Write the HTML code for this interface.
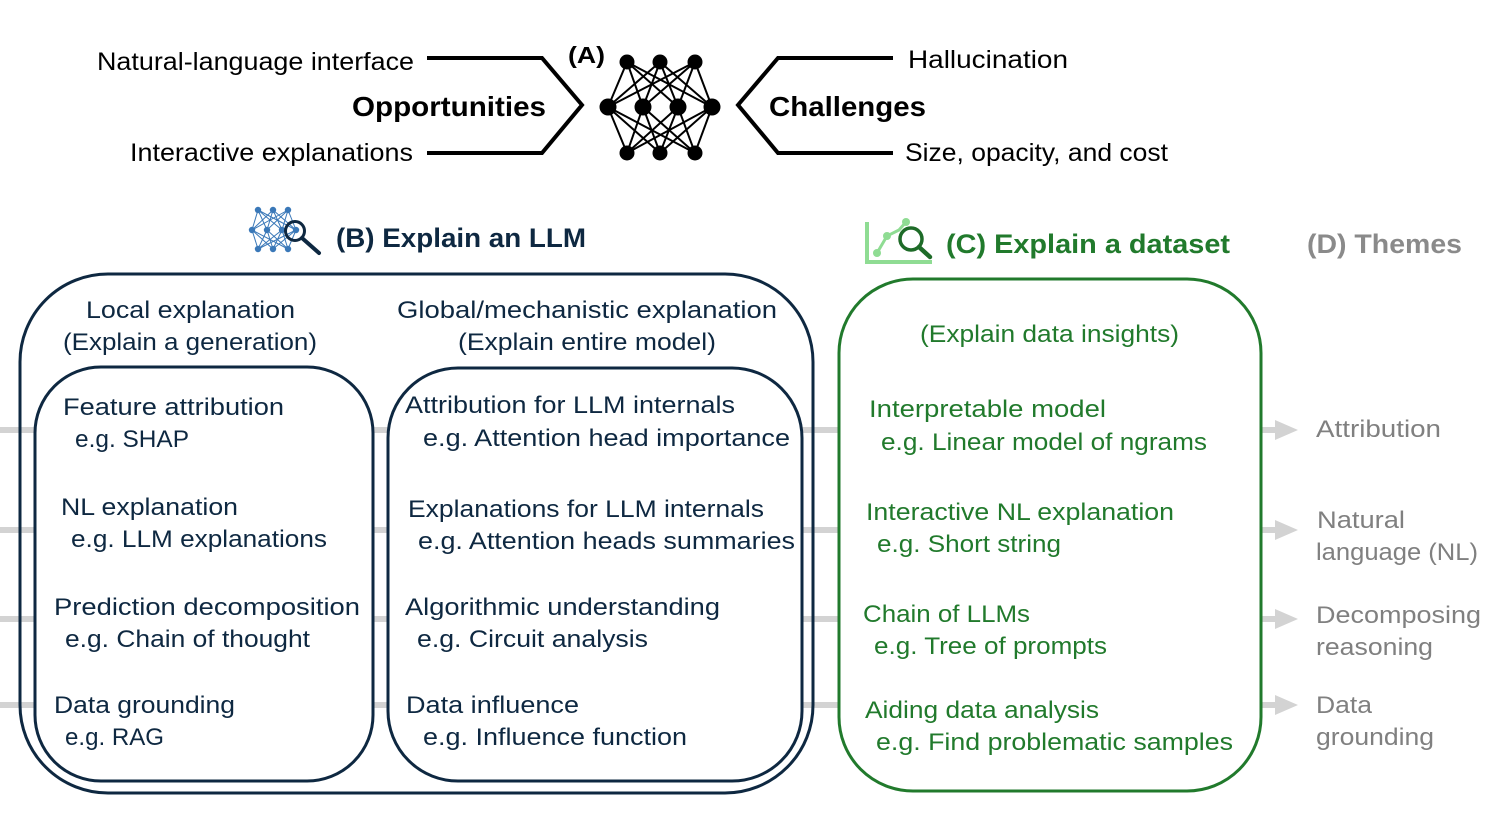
<!DOCTYPE html>
<html>
<head>
<meta charset="utf-8">
<style>
html,body{margin:0;padding:0;background:#fff;}
svg{display:block;}
text{font-family:"Liberation Sans",sans-serif;}
</style>
</head>
<body>
<svg width="1495" height="830" viewBox="0 0 1495 830" xmlns="http://www.w3.org/2000/svg">
<rect width="1495" height="830" fill="#fff"/>

<!-- ===== (A) top section ===== -->
<g font-size="25" fill="#000">
<text x="97" y="70" textLength="317" lengthAdjust="spacingAndGlyphs">Natural-language interface</text>
<text x="130" y="161" textLength="283" lengthAdjust="spacingAndGlyphs">Interactive explanations</text>
<text x="908" y="68" textLength="160" lengthAdjust="spacingAndGlyphs">Hallucination</text>
<text x="905" y="161" textLength="263" lengthAdjust="spacingAndGlyphs">Size, opacity, and cost</text>
</g>
<g font-size="28" font-weight="bold" fill="#000">
<text x="352" y="116" textLength="194" lengthAdjust="spacingAndGlyphs">Opportunities</text>
<text x="769" y="116" textLength="157" lengthAdjust="spacingAndGlyphs">Challenges</text>
</g>
<text x="568" y="63" font-size="23" font-weight="bold" fill="#000" textLength="37" lengthAdjust="spacingAndGlyphs">(A)</text>

<!-- chevrons -->
<polyline points="427,58 542,58 582,105 542,153 427,153" fill="none" stroke="#000" stroke-width="4" stroke-linejoin="miter"/>
<polyline points="893,58 778,58 738,105 778,153 893,153" fill="none" stroke="#000" stroke-width="4" stroke-linejoin="miter"/>

<!-- neural network -->
<g stroke="#000" stroke-width="2">
<!-- top to middle -->
<line x1="627" y1="62" x2="608" y2="107"/><line x1="627" y1="62" x2="643" y2="107"/><line x1="627" y1="62" x2="678" y2="107"/><line x1="627" y1="62" x2="712" y2="107"/>
<line x1="660" y1="62" x2="608" y2="107"/><line x1="660" y1="62" x2="643" y2="107"/><line x1="660" y1="62" x2="678" y2="107"/><line x1="660" y1="62" x2="712" y2="107"/>
<line x1="695" y1="62" x2="608" y2="107"/><line x1="695" y1="62" x2="643" y2="107"/><line x1="695" y1="62" x2="678" y2="107"/><line x1="695" y1="62" x2="712" y2="107"/>
<!-- middle to bottom -->
<line x1="608" y1="107" x2="627" y2="153"/><line x1="608" y1="107" x2="660" y2="153"/><line x1="608" y1="107" x2="695" y2="153"/>
<line x1="643" y1="107" x2="627" y2="153"/><line x1="643" y1="107" x2="660" y2="153"/><line x1="643" y1="107" x2="695" y2="153"/>
<line x1="678" y1="107" x2="627" y2="153"/><line x1="678" y1="107" x2="660" y2="153"/><line x1="678" y1="107" x2="695" y2="153"/>
<line x1="712" y1="107" x2="627" y2="153"/><line x1="712" y1="107" x2="660" y2="153"/><line x1="712" y1="107" x2="695" y2="153"/>
</g>
<g fill="#000">
<circle cx="627" cy="62" r="7.5"/><circle cx="660" cy="62" r="7.5"/><circle cx="695" cy="62" r="7.5"/>
<circle cx="608" cy="107" r="8.5"/><circle cx="643" cy="107" r="8.5"/><circle cx="678" cy="107" r="8.5"/><circle cx="712" cy="107" r="8.5"/>
<circle cx="627" cy="153" r="7.5"/><circle cx="660" cy="153" r="7.5"/><circle cx="695" cy="153" r="7.5"/>
</g>

<!-- ===== section titles ===== -->
<!-- B icon -->
<g stroke="#3a78b8" stroke-width="1">
<line x1="258" y1="210" x2="252" y2="230"/><line x1="258" y1="210" x2="267" y2="230"/><line x1="258" y1="210" x2="282" y2="230"/><line x1="258" y1="210" x2="296" y2="230"/>
<line x1="273" y1="210" x2="252" y2="230"/><line x1="273" y1="210" x2="267" y2="230"/><line x1="273" y1="210" x2="282" y2="230"/><line x1="273" y1="210" x2="296" y2="230"/>
<line x1="288" y1="210" x2="252" y2="230"/><line x1="288" y1="210" x2="267" y2="230"/><line x1="288" y1="210" x2="282" y2="230"/><line x1="288" y1="210" x2="296" y2="230"/>
<line x1="252" y1="230" x2="258" y2="249"/><line x1="252" y1="230" x2="273" y2="249"/><line x1="252" y1="230" x2="288" y2="249"/>
<line x1="267" y1="230" x2="258" y2="249"/><line x1="267" y1="230" x2="273" y2="249"/><line x1="267" y1="230" x2="288" y2="249"/>
<line x1="282" y1="230" x2="258" y2="249"/><line x1="282" y1="230" x2="273" y2="249"/><line x1="282" y1="230" x2="288" y2="249"/>
<line x1="296" y1="230" x2="258" y2="249"/><line x1="296" y1="230" x2="273" y2="249"/><line x1="296" y1="230" x2="288" y2="249"/>
</g>
<g fill="#3a78b8">
<circle cx="258" cy="210" r="3.2"/><circle cx="273" cy="210" r="3.2"/><circle cx="288" cy="210" r="3.2"/>
<circle cx="252" cy="230" r="3.2"/><circle cx="267" cy="230" r="3.2"/><circle cx="282" cy="230" r="3.2"/><circle cx="296" cy="230" r="3.2"/>
<circle cx="258" cy="249" r="3.2"/><circle cx="273" cy="249" r="3.2"/><circle cx="288" cy="249" r="3.2"/>
</g>
<circle cx="295" cy="231" r="9.5" fill="none" stroke="#0e2841" stroke-width="3"/>
<line x1="302" y1="238" x2="319" y2="253" stroke="#0e2841" stroke-width="4" stroke-linecap="round"/>
<text x="336" y="247" font-size="27" font-weight="bold" fill="#0e2841" textLength="250" lengthAdjust="spacingAndGlyphs">(B) Explain an LLM</text>

<!-- C icon -->
<polyline points="867,222 867,262 932,262" fill="none" stroke="#8fdc93" stroke-width="4"/>
<polyline points="877,253 887,236 899,230 906,222" fill="none" stroke="#8fdc93" stroke-width="3"/>
<circle cx="877" cy="253" r="4" fill="#8fdc93"/><circle cx="887" cy="236" r="4" fill="#8fdc93"/><circle cx="906" cy="222" r="4" fill="#8fdc93"/>
<circle cx="911" cy="239" r="11" fill="none" stroke="#1e6b28" stroke-width="3.5"/>
<line x1="919" y1="247" x2="930" y2="257" stroke="#1e6b28" stroke-width="4.5" stroke-linecap="round"/>
<text x="946" y="253" font-size="27" font-weight="bold" fill="#217a2c" textLength="284" lengthAdjust="spacingAndGlyphs">(C) Explain a dataset</text>

<text x="1307" y="253" font-size="27" font-weight="bold" fill="#8a8a8a" textLength="155" lengthAdjust="spacingAndGlyphs">(D) Themes</text>

<!-- ===== gray theme lines ===== -->
<g stroke="#d3d3d3" stroke-width="6">
<line x1="0" y1="430" x2="1278" y2="430"/>
<line x1="0" y1="530" x2="1278" y2="530"/>
<line x1="0" y1="619" x2="1278" y2="619"/>
<line x1="0" y1="705" x2="1278" y2="705"/>
</g>
<g fill="#d3d3d3">
<polygon points="1275,420 1298,430 1275,440"/>
<polygon points="1275,520 1298,530 1275,540"/>
<polygon points="1275,609 1298,619 1275,629"/>
<polygon points="1275,695 1298,705 1275,715"/>
</g>

<!-- ===== B boxes ===== -->
<rect x="20" y="274" width="793" height="519" rx="88" ry="88" fill="none" stroke="#0e2841" stroke-width="3"/>
<rect x="35" y="367" width="338" height="414" rx="66" ry="66" fill="#fff" stroke="#0e2841" stroke-width="3"/>
<rect x="388" y="368" width="414" height="413" rx="70" ry="70" fill="#fff" stroke="#0e2841" stroke-width="3"/>

<g font-size="24" fill="#0e2841">
<text x="86" y="318" textLength="209" lengthAdjust="spacingAndGlyphs">Local explanation</text>
<text x="63" y="350" textLength="254" lengthAdjust="spacingAndGlyphs">(Explain a generation)</text>
<text x="397" y="318" textLength="380" lengthAdjust="spacingAndGlyphs">Global/mechanistic explanation</text>
<text x="458" y="350" textLength="258" lengthAdjust="spacingAndGlyphs">(Explain entire model)</text>

<text x="63" y="415" textLength="221" lengthAdjust="spacingAndGlyphs">Feature attribution</text>
<text x="75" y="447" textLength="114" lengthAdjust="spacingAndGlyphs">e.g. SHAP</text>
<text x="61" y="515" textLength="177" lengthAdjust="spacingAndGlyphs">NL explanation</text>
<text x="71" y="547" textLength="256" lengthAdjust="spacingAndGlyphs">e.g. LLM explanations</text>
<text x="54" y="615" textLength="306" lengthAdjust="spacingAndGlyphs">Prediction decomposition</text>
<text x="65" y="647" textLength="245" lengthAdjust="spacingAndGlyphs">e.g. Chain of thought</text>
<text x="54" y="713" textLength="181" lengthAdjust="spacingAndGlyphs">Data grounding</text>
<text x="65" y="745" textLength="99" lengthAdjust="spacingAndGlyphs">e.g. RAG</text>

<text x="405" y="413" textLength="330" lengthAdjust="spacingAndGlyphs">Attribution for LLM internals</text>
<text x="423" y="446" textLength="367" lengthAdjust="spacingAndGlyphs">e.g. Attention head importance</text>
<text x="408" y="517" textLength="356" lengthAdjust="spacingAndGlyphs">Explanations for LLM internals</text>
<text x="418" y="549" textLength="377" lengthAdjust="spacingAndGlyphs">e.g. Attention heads summaries</text>
<text x="405" y="615" textLength="315" lengthAdjust="spacingAndGlyphs">Algorithmic understanding</text>
<text x="417" y="647" textLength="231" lengthAdjust="spacingAndGlyphs">e.g. Circuit analysis</text>
<text x="406" y="713" textLength="173" lengthAdjust="spacingAndGlyphs">Data influence</text>
<text x="423" y="745" textLength="264" lengthAdjust="spacingAndGlyphs">e.g. Influence function</text>
</g>

<!-- ===== C box ===== -->
<rect x="839" y="279" width="422" height="512" rx="74" ry="74" fill="#fff" stroke="#217a2c" stroke-width="3"/>
<g font-size="24" fill="#217a2c">
<text x="920" y="342" textLength="259" lengthAdjust="spacingAndGlyphs">(Explain data insights)</text>
<text x="869" y="417" textLength="237" lengthAdjust="spacingAndGlyphs">Interpretable model</text>
<text x="881" y="450" textLength="326" lengthAdjust="spacingAndGlyphs">e.g. Linear model of ngrams</text>
<text x="866" y="520" textLength="308" lengthAdjust="spacingAndGlyphs">Interactive NL explanation</text>
<text x="877" y="552" textLength="184" lengthAdjust="spacingAndGlyphs">e.g. Short string</text>
<text x="863" y="622" textLength="167" lengthAdjust="spacingAndGlyphs">Chain of LLMs</text>
<text x="874" y="654" textLength="233" lengthAdjust="spacingAndGlyphs">e.g. Tree of prompts</text>
<text x="865" y="718" textLength="234" lengthAdjust="spacingAndGlyphs">Aiding data analysis</text>
<text x="876" y="750" textLength="357" lengthAdjust="spacingAndGlyphs">e.g. Find problematic samples</text>
</g>

<!-- ===== themes ===== -->
<g font-size="24" fill="#808080">
<text x="1316" y="437" textLength="125" lengthAdjust="spacingAndGlyphs">Attribution</text>
<text x="1317" y="528" textLength="88" lengthAdjust="spacingAndGlyphs">Natural</text>
<text x="1316" y="560" textLength="162" lengthAdjust="spacingAndGlyphs">language (NL)</text>
<text x="1316" y="623" textLength="165" lengthAdjust="spacingAndGlyphs">Decomposing</text>
<text x="1316" y="655" textLength="117" lengthAdjust="spacingAndGlyphs">reasoning</text>
<text x="1316" y="713" textLength="56" lengthAdjust="spacingAndGlyphs">Data</text>
<text x="1316" y="745" textLength="118" lengthAdjust="spacingAndGlyphs">grounding</text>
</g>
</svg>
</body>
</html>
